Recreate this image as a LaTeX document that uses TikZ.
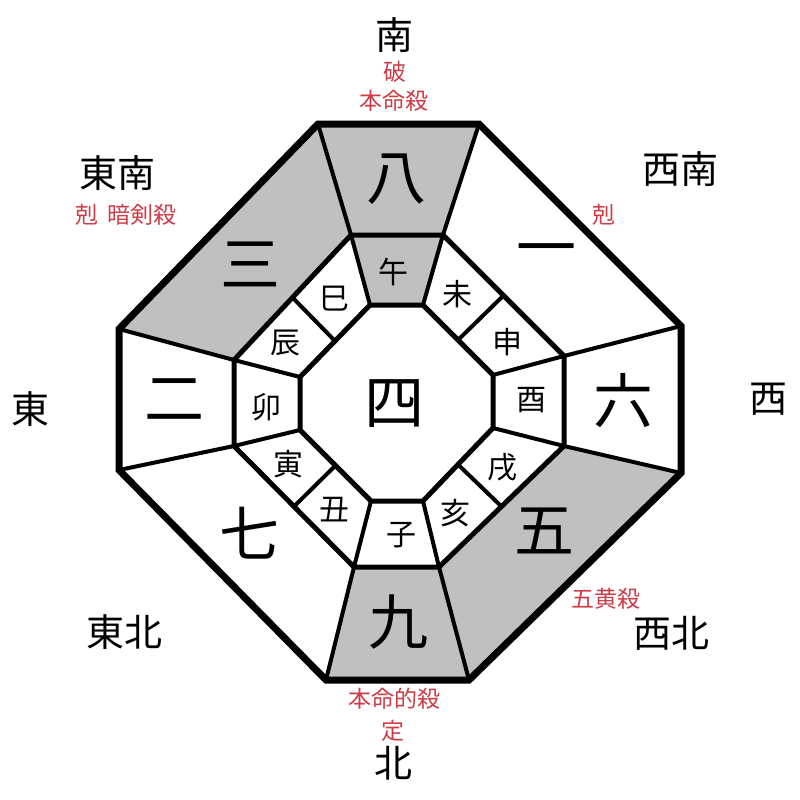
\documentclass[tikz,border=0pt]{standalone}
\usepackage{fontspec}
\setmainfont{Noto Sans CJK JP}
\usetikzlibrary{calc}
\definecolor{sectorgray}{RGB}{192,192,192}
\definecolor{markred}{RGB}{205,60,70}
\tikzset{
  rim/.style={line width=7pt, line join=miter},
  ring/.style={line width=5pt, line join=miter},
  spoke/.style={line width=4pt},
  star/.style={inner sep=0pt, font=\fontsize{60}{60}\selectfont},
  branch/.style={inner sep=0pt, font=\fontsize{30}{30}\selectfont},
  compass/.style={inner sep=0pt, font=\fontsize{38}{38}\selectfont},
  omen/.style={inner sep=0pt, text=markred, font=\fontsize{23}{23}\selectfont},
}
\begin{document}
\begin{tikzpicture}[x=1pt,y=-1pt]
        \useasboundingbox (0,0) rectangle (800,800);
        % Outer octagon
        \coordinate (o1) at (318,124);
        \coordinate (o2) at (479,124);
        \coordinate (o3) at (681,326);
        \coordinate (o4) at (681,473);
        \coordinate (o5) at (469,680);
        \coordinate (o6) at (326,680);
        \coordinate (o7) at (119,470);
        \coordinate (o8) at (119,329);
        % Middle octagon
        \coordinate (m1) at (351,235);
        \coordinate (m2) at (443,235);
        \coordinate (m3) at (564,356);
        \coordinate (m4) at (564,446);
        \coordinate (m5) at (439,567);
        \coordinate (m6) at (354,567);
        \coordinate (m7) at (234,446);
        \coordinate (m8) at (234,360);
        % Inner octagon
        \coordinate (i1) at (370,305);
        \coordinate (i2) at (423,305);
        \coordinate (i3) at (493,375);
        \coordinate (i4) at (493,428);
        \coordinate (i5) at (423,501);
        \coordinate (i6) at (371,501);
        \coordinate (i7) at (300,430);
        \coordinate (i8) at (300,377);

        % Shaded sectors
        \fill[sectorgray] (o1) -- (o2) -- (m2) -- (m1) -- cycle;
        \fill[sectorgray] (o8) -- (o1) -- (m1) -- (m8) -- cycle;
        \fill[sectorgray] (o4) -- (o5) -- (m5) -- (m4) -- cycle;
        \fill[sectorgray] (o5) -- (o6) -- (m6) -- (m5) -- cycle;
        \fill[sectorgray] (m1) -- (m2) -- (i2) -- (i1) -- cycle;

        % Spokes between the rings
        \draw[spoke] (m1) -- (o1);
        \draw[spoke] (m2) -- (o2);
        \draw[spoke] (m3) -- (o3);
        \draw[spoke] (m4) -- (o4);
        \draw[spoke] (m5) -- (o5);
        \draw[spoke] (m6) -- (o6);
        \draw[spoke] (m7) -- (o7);
        \draw[spoke] (m8) -- (o8);
        \draw[spoke] (i1) -- (m1);
        \draw[spoke] (i2) -- (m2);
        \draw[spoke] (i3) -- (m3);
        \draw[spoke] (i4) -- (m4);
        \draw[spoke] (i5) -- (m5);
        \draw[spoke] (i6) -- (m6);
        \draw[spoke] (i7) -- (m7);
        \draw[spoke] (i8) -- (m8);
        \draw[spoke] ($(i2)!0.5!(i3)$) -- ($(m2)!0.5!(m3)$);
        \draw[spoke] ($(i4)!0.5!(i5)$) -- ($(m4)!0.5!(m5)$);
        \draw[spoke] ($(i6)!0.5!(i7)$) -- ($(m6)!0.5!(m7)$);
        \draw[spoke] ($(i8)!0.5!(i1)$) -- ($(m8)!0.5!(m1)$);

        % Rings
        \draw[ring] (i1) -- (i2) -- (i3) -- (i4) -- (i5) -- (i6) -- (i7) -- (i8) -- cycle;
        \draw[ring] (m1) -- (m2) -- (m3) -- (m4) -- (m5) -- (m6) -- (m7) -- (m8) -- cycle;
        \draw[rim] (o1) -- (o2) -- (o3) -- (o4) -- (o5) -- (o6) -- (o7) -- (o8) -- cycle;

        % Stars
        \node[star] (center) at (394,404) {四};
        \node[star] (s8) at (396,179) {八};
        \node[star] (s1) at (546,257) {一};
        \node[star] (s6) at (623,401) {六};
        \node[star] (s5) at (544,531) {五};
        \node[star] (s9) at (398,622) {九};
        \node[star] (s7) at (249,533) {七};
        \node[star] (s2) at (174,400) {二};
        \node[star] (s3) at (250,264) {三};

        % Branches
        \node[branch] (wu) at (393,272) {午};
        \node[branch] (wei) at (457,294) {未};
        \node[branch] (shen) at (507,342) {申};
        \node[branch] (you) at (531,400) {酉};
        \node[branch] (xu) at (502,467) {戌};
        \node[branch] (hai) at (455,513) {亥};
        \node[branch] (zi) at (401,535) {子};
        \node[branch] (chou) at (334,510) {丑};
        \node[branch] (yin) at (288,464) {寅};
        \node[branch] (mao) at (266,407) {卯};
        \node[branch] (chen) at (285,343) {辰};
        \node[branch] (si) at (334,299) {巳};

        % Directions
        \node[compass] (south) at (394,35) {南};
        \node[compass] (southeast) at (117,173) {東南};
        \node[compass] (southwest) at (680,169) {西南};
        \node[compass] (east) at (31,409) {東};
        \node[compass] (west) at (768,399) {西};
        \node[compass] (northeast) at (124,632) {東北};
        \node[compass] (northwest) at (671,633) {西北};
        \node[compass] (north) at (393,763) {北};

        % Red marks
        \node[omen] (po) at (395,72) {破};
        \node[omen] (benming) at (394,101) {本命殺};
        \node[omen] (anjian) at (126,215) {剋\hspace{9pt}暗剣殺};
        \node[omen] (ke) at (604,215) {剋};
        \node[omen] (wuhuang) at (606,599) {五黄殺};
        \node[omen] (benmingdi) at (394,699) {本命的殺};
        \node[omen] (ding) at (393,731) {定};
    \end{tikzpicture}
\end{document}
